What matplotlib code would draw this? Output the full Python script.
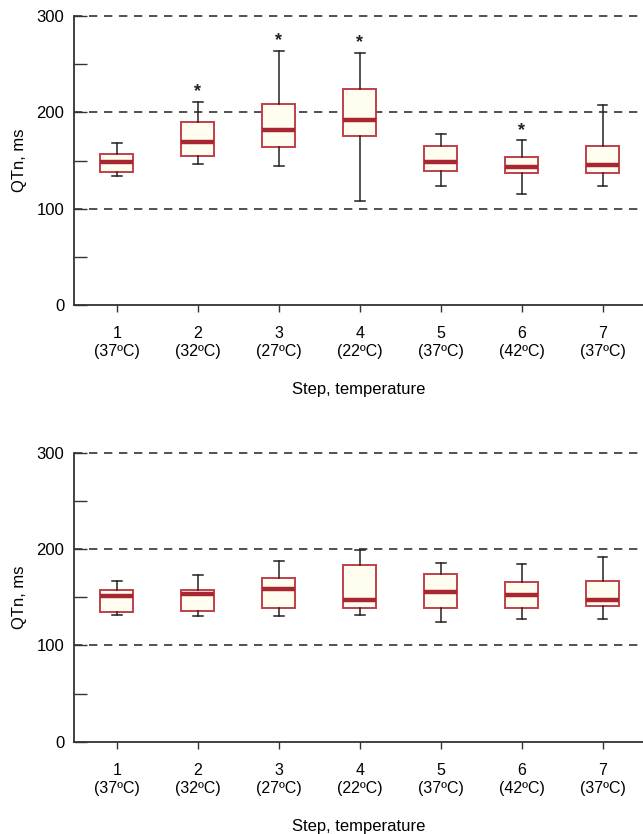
import matplotlib.pyplot as plt
from matplotlib.ticker import MultipleLocator

plt.rcParams['font.family'] = ['Liberation Sans', 'DejaVu Sans']

# etiquetas de los pasos
pasos = [1, 2, 3, 4, 5, 6, 7]
temperaturas = ["37ºC", "32ºC", "27ºC", "22ºC", "37ºC", "42ºC", "37ºC"]

# panel superior
sup_whislo = [134, 146, 144, 108, 124, 115, 124]
sup_q1 = [138, 155, 164, 175, 139, 137, 137]
sup_med = [148, 169, 182, 192, 148, 143, 145]
sup_q3 = [157, 190, 209, 224, 165, 154, 165]
sup_whishi = [168, 211, 264, 262, 177, 171, 208]
sup_asterisco = [False, True, True, True, False, True, False]

# panel inferior
inf_whislo = [132, 130, 130, 131, 124, 127, 127]
inf_q1 = [135, 136, 139, 139, 139, 139, 141]
inf_med = [151, 153, 158, 147, 155, 152, 147]
inf_q3 = [157, 157, 170, 183, 174, 166, 167]
inf_whishi = [167, 173, 188, 199, 185, 184, 192]
inf_asterisco = [False] * 7

color_borde = '#c0404a'
color_mediana = '#a8262f'
color_relleno = '#fffdf0'
color_eje = '#333333'

fig = plt.figure(figsize=(6.43, 8.34), dpi=100)
ax1 = fig.add_axes([0.1151, 0.6343, 0.8849, 0.3465])
ax2 = fig.add_axes([0.1151, 0.1107, 0.8849, 0.3465])


def dibujar(ax, whislo, q1, med, q3, whishi, asterisco):
    stats = []
    for i in range(len(pasos)):
        stats.append(dict(whislo=whislo[i], q1=q1[i], med=med[i], q3=q3[i],
                          whishi=whishi[i], fliers=[]))
    ax.bxp(stats, positions=pasos, widths=0.41, capwidths=0.12,
           showfliers=False, patch_artist=True,
           boxprops=dict(facecolor=color_relleno, edgecolor=color_borde, linewidth=1.4),
           medianprops=dict(color=color_mediana, linewidth=3.2, solid_capstyle='butt'),
           whiskerprops=dict(color='#222222', linewidth=1.1),
           capprops=dict(color='#222222', linewidth=1.1))
    for i, marca in enumerate(asterisco):
        if marca:
            ax.annotate('*', (pasos[i], whishi[i]), xytext=(0, 1),
                        textcoords='offset points', ha='center', va='bottom',
                        fontsize=13, fontweight='bold', color='#222222')

    ax.set_xlim(0.47, 7.5)
    ax.set_ylim(0, 300)
    ax.set_yticks([0, 100, 200, 300])
    ax.yaxis.set_minor_locator(MultipleLocator(50))
    ax.tick_params(axis='y', which='both', direction='in', length=9,
                   width=1, color=color_eje, labelsize=12, pad=7)
    ax.set_xticks(pasos)
    ax.set_xticklabels([f"{p}\n({t})" for p, t in zip(pasos, temperaturas)],
                       fontsize=11.5, linespacing=1.25)
    ax.tick_params(axis='x', direction='out', length=5, width=1,
                   color=color_eje, pad=10)
    for y in [100, 200, 300]:
        ax.axhline(y, color='#333333', linewidth=1.2, linestyle=(0, (5, 4)),
                   zorder=0, clip_on=False)
    for lado in ['top', 'right']:
        ax.spines[lado].set_visible(False)
    for lado in ['left', 'bottom']:
        ax.spines[lado].set_color(color_eje)
        ax.spines[lado].set_linewidth(1.3)
    ax.set_ylabel("QTn, ms", fontsize=12, labelpad=7)
    ax.set_xlabel("Step, temperature", fontsize=12, labelpad=17)


dibujar(ax1, sup_whislo, sup_q1, sup_med, sup_q3, sup_whishi, sup_asterisco)
dibujar(ax2, inf_whislo, inf_q1, inf_med, inf_q3, inf_whishi, inf_asterisco)

fig.savefig("out.png", dpi=100)
